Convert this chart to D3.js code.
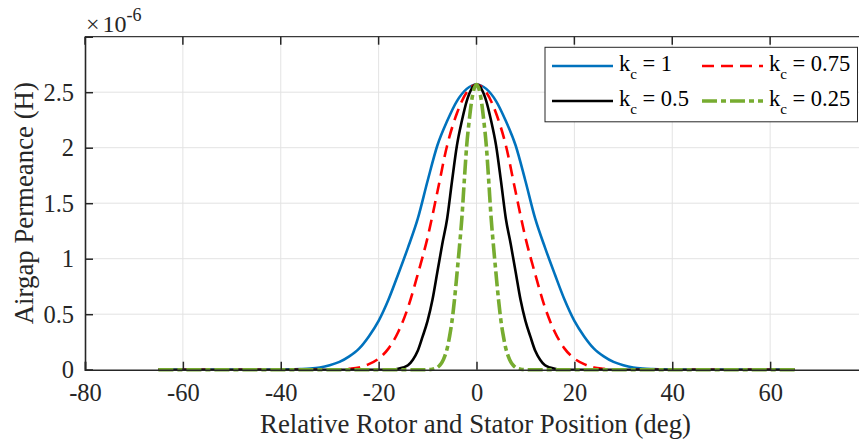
<!DOCTYPE html>
<html>
<head>
<meta charset="utf-8">
<script src="https://cdn.jsdelivr.net/npm/d3@7"></script>
<style>
  html, body { margin: 0; padding: 0; background: #fff; }
  svg { display: block; }
  svg text { font-family: "Liberation Serif", "Times New Roman", serif; }
</style>
</head>
<body>
<svg id="chart" width="859" height="443"></svg>
<script>
// ---- data (values in units of 1e-6 H) ----
const xBlue = [-65, -50, -40, -36, -34, -32, -30, -28, -26, -24, -22, -20, -18, -16, -14, -12, -10, -8, -6, -4, -2, 0,
               2, 4, 6, 8, 10, 12, 14, 16, 18, 20, 22, 24, 26, 28, 30, 32, 34, 36, 40, 50, 65];
const yBlue = [0, 0, 0, 0.005, 0.01, 0.02, 0.04, 0.07, 0.12, 0.19, 0.30, 0.44, 0.63, 0.86, 1.10, 1.36, 1.70, 2.02, 2.24, 2.42, 2.53, 2.57,
               2.53, 2.42, 2.24, 2.02, 1.70, 1.36, 1.10, 0.86, 0.63, 0.44, 0.30, 0.19, 0.12, 0.07, 0.04, 0.02, 0.01, 0.005, 0, 0, 0];

const xRed = [-65, -45, -30, -28, -26, -24, -22, -20, -18, -16, -14, -12, -10, -8, -6, -4, -2, 0,
              2, 4, 6, 8, 10, 12, 14, 16, 18, 20, 22, 24, 26, 28, 30, 45, 65];
const yRed = [0, 0, 0, 0, 0.008, 0.02, 0.05, 0.10, 0.19, 0.34, 0.56, 0.86, 1.19, 1.60, 2.02, 2.31, 2.50, 2.57,
              2.50, 2.31, 2.02, 1.60, 1.19, 0.86, 0.56, 0.34, 0.19, 0.10, 0.05, 0.02, 0.008, 0, 0, 0, 0];

const xBlack = [-65, -40, -20, -17, -16, -15, -14, -13, -12, -11, -10, -9, -8, -7, -6, -5, -4, -3, -2, -1, 0,
                1, 2, 3, 4, 5, 6, 7, 8, 9, 10, 11, 12, 13, 14, 15, 16, 17, 20, 40, 65];
const yBlack = [0, 0, 0, 0, 0.008, 0.02, 0.04, 0.09, 0.17, 0.30, 0.44, 0.63, 0.88, 1.13, 1.36, 1.70, 2.02, 2.24, 2.42, 2.53, 2.57,
                2.53, 2.42, 2.24, 2.02, 1.70, 1.36, 1.13, 0.88, 0.63, 0.44, 0.30, 0.17, 0.09, 0.04, 0.02, 0.008, 0, 0, 0, 0];

const xGreen = [-65, -40, -20, -10, -9, -8.5, -8, -7.5, -7, -6.5, -6, -5.5, -5, -4.5, -4, -3.5, -3, -2.5, -2, -1.5, -1, -0.5, 0,
                0.5, 1, 1.5, 2, 2.5, 3, 3.5, 4, 4.5, 5, 5.5, 6, 6.5, 7, 7.5, 8, 8.5, 9, 10, 20, 40, 65];
const yGreen = [0, 0, 0, 0, 0.005, 0.01, 0.02, 0.04, 0.07, 0.12, 0.19, 0.30, 0.44, 0.63, 0.86, 1.10, 1.36, 1.70, 2.02, 2.24, 2.42, 2.53, 2.57,
                2.53, 2.42, 2.24, 2.02, 1.70, 1.36, 1.10, 0.86, 0.63, 0.44, 0.30, 0.19, 0.12, 0.07, 0.04, 0.02, 0.01, 0.005, 0, 0, 0, 0];

const seriesKc = ["1", "0.75", "0.5", "0.25"];
const xTicks = [-80, -60, -40, -20, 0, 20, 40, 60];
const yTicks = [0, 0.5, 1, 1.5, 2, 2.5];
const xDomain = [-80, 80];
const yDomain = [0, 3];
const xLabel = "Relative Rotor and Stator Position (deg)";
const yLabel = "Airgap Permeance (H)";

(function () {
const FONT = '"Liberation Serif", "Times New Roman", serif';
const svg = d3.select("#chart");
const pL = 85, pR = 868, pT = 36.7, pB = 369.7;
const x = d3.scaleLinear().domain(xDomain).range([pL, pR]);
const y = d3.scaleLinear().domain(yDomain).range([pB, pT]);

const styles = [
  { color: "#0072BD", width: 2.6, dash: null },
  { color: "#FF0000", width: 2.6, dash: "12,7" },
  { color: "#000000", width: 2.6, dash: null },
  { color: "#77AC30", width: 3.6, dash: "15,4,5,4" }
];

// grid
const grid = svg.append("g");
grid.selectAll("line.gx").data(xTicks.filter(d => d !== -80)).enter().append("line")
  .attr("x1", d => x(d)).attr("x2", d => x(d)).attr("y1", pT).attr("y2", pB)
  .attr("stroke", "#e3e3e3").attr("stroke-width", 1);
grid.selectAll("line.gy").data(yTicks.filter(d => d !== 0)).enter().append("line")
  .attr("x1", pL).attr("x2", pR).attr("y1", d => y(d)).attr("y2", d => y(d))
  .attr("stroke", "#e3e3e3").attr("stroke-width", 1);

// top border with inward ticks
svg.append("line").attr("x1", pL).attr("x2", pR).attr("y1", pT).attr("y2", pT)
  .attr("stroke", "#3a3a3a").attr("stroke-width", 1.2);
svg.append("g").selectAll("line").data(xTicks).enter().append("line")
  .attr("x1", d => x(d)).attr("x2", d => x(d)).attr("y1", pT).attr("y2", pT + 8)
  .attr("stroke", "#262626").attr("stroke-width", 1.5);

// series
const series = [[xBlue, yBlue], [xRed, yRed], [xBlack, yBlack], [xGreen, yGreen]];
const line = d3.line().x(d => x(d[0])).y(d => y(d[1])).curve(d3.curveMonotoneX);
series.forEach((s, i) => {
  const pts = s[0].map((v, j) => [v, s[1][j]]);
  svg.append("path").datum(pts).attr("d", line)
    .attr("fill", "none").attr("stroke", styles[i].color)
    .attr("stroke-width", styles[i].width)
    .attr("stroke-dasharray", styles[i].dash)
    .attr("stroke-linejoin", "round");
});

// axes
const xAxis = d3.axisBottom(x).tickValues(xTicks).tickSize(-8).tickPadding(14)
  .tickFormat(d => String(d));
const gx = svg.append("g").attr("transform", `translate(0,${pB})`).call(xAxis)
  .attr("font-family", null).attr("font-size", null);
gx.select(".domain").attr("stroke", "#262626").attr("stroke-width", 1.6);
gx.selectAll(".tick line").attr("stroke", "#262626").attr("stroke-width", 1.5);
gx.selectAll("text").style("font-family", FONT).style("font-size", "24.5px").attr("fill", "#262626");

const yAxis = d3.axisLeft(y).tickValues(yTicks).tickSize(-8).tickPadding(11)
  .tickFormat(d => String(d));
const gy = svg.append("g").attr("transform", `translate(${pL},0)`).call(yAxis)
  .attr("font-family", null).attr("font-size", null);
gy.select(".domain").attr("stroke", "#262626").attr("stroke-width", 1.6);
gy.selectAll(".tick line").attr("stroke", "#262626").attr("stroke-width", 1.5);
gy.selectAll("text").style("font-family", FONT).style("font-size", "24.5px").attr("fill", "#262626");

// exponent
const ex = svg.append("text").attr("x", 86).attr("y", 32).attr("fill", "#262626")
  .style("font-size", "24px");
ex.append("tspan").text("\u00d7");
ex.append("tspan").attr("dx", 3).text("10");
ex.append("tspan").attr("dy", -11).style("font-size", "18px").text("-6");

// axis labels
svg.append("text").attr("x", (pL + pR) / 2 - 1).attr("y", 433)
  .attr("text-anchor", "middle").style("font-size", "26.8px").attr("fill", "#262626").text(xLabel);
svg.append("text").attr("transform", `translate(33,${(pT + pB) / 2}) rotate(-90)`)
  .attr("text-anchor", "middle").style("font-size", "26.8px").attr("fill", "#262626").text(yLabel);

// legend
const lg = svg.append("g");
lg.append("rect").attr("x", 545).attr("y", 47.3).attr("width", 312.5).attr("height", 74.5)
  .attr("fill", "#fff").attr("stroke", "#262626").attr("stroke-width", 1);
const legendPos = [
  { lx: 552, ty: 66 }, { lx: 702, ty: 66 }, { lx: 552, ty: 101 }, { lx: 702, ty: 101 }
];
seriesKc.forEach((k, i) => {
  const p = legendPos[i];
  lg.append("line").attr("x1", p.lx).attr("x2", p.lx + 61).attr("y1", p.ty).attr("y2", p.ty)
    .attr("stroke", styles[i].color).attr("stroke-width", styles[i].width)
    .attr("stroke-dasharray", styles[i].dash);
  const t = lg.append("text").attr("x", p.lx + 67).attr("y", p.ty + 5)
    .style("font-size", "22.5px").attr("fill", "#000");
  t.append("tspan").text("k");
  t.append("tspan").attr("dy", 8).style("font-size", "15px").text("c");
  t.append("tspan").attr("dy", -8).text("\u00a0= " + k);
});
})();
</script>
</body>
</html>
